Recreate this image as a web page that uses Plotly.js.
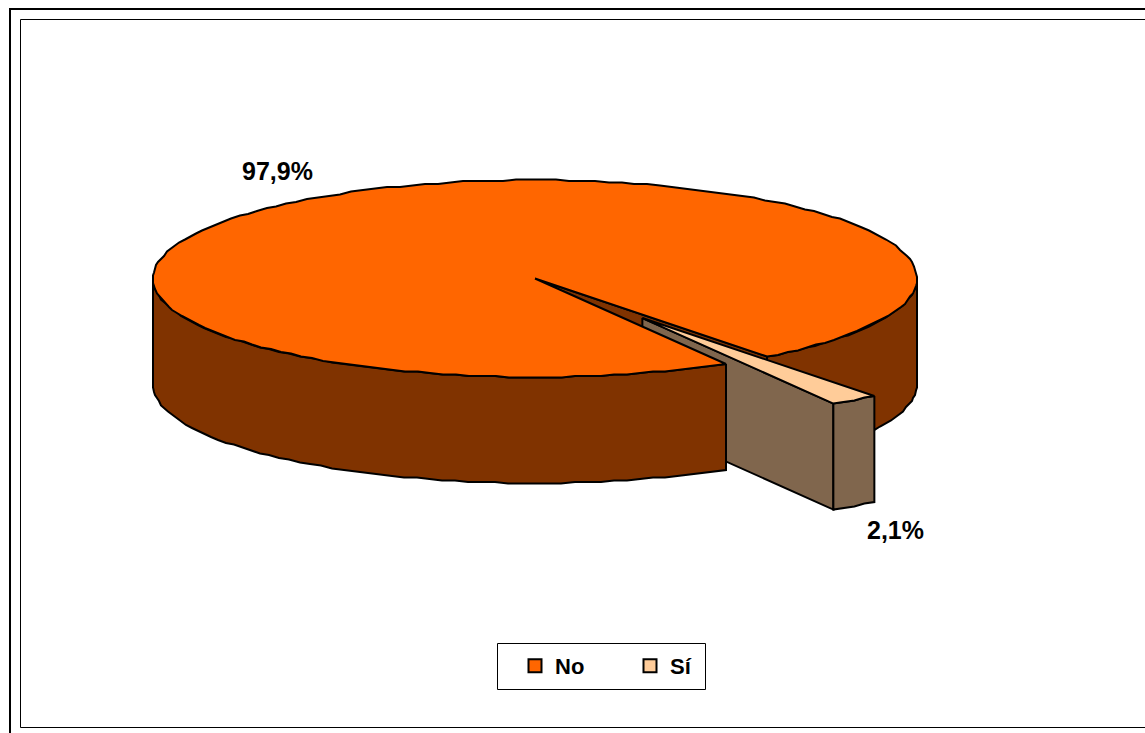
<!DOCTYPE html>
<html>
<head>
<meta charset="utf-8">
<script src="https://cdn.plot.ly/plotly-3.0.1.min.js"></script>
<style>html,body{margin:0;padding:0;background:#fff;overflow:hidden}</style>
</head>
<body>
<div id="chart" style="width:1145px;height:733px"></div>
<script>
const categories = ["No", "Sí"];
const percentages = [97.9, 2.1];
const topColors = ["#FF6600", "#FFCC99"];
const wallColors = ["#803300", "#80664D"];

const W = 1145, H = 733;
const cx = 535, cy = 278.5, rx = 382, ry = 98.5;
const depth = 106 / ry;
const explode = 0.49, explodeAngle = 55;
const midAngle = 56.3;
const span = percentages[1] / 100 * 360;
const a0 = midAngle - span / 2, a1 = midAngle + span / 2;
const rad = d => d * Math.PI / 180;
const off = [explode * Math.cos(rad(explodeAngle)), explode * Math.sin(rad(explodeAngle))];
// The original outline is a polyline snapped to a device grid.
const snap = (v, unit, step) => Math.round(v * unit / step) * step / unit;

function pt(a, o, dz) {
  return [snap(Math.cos(rad(a)), rx, 1) + (o ? o[0] : 0), snap(Math.sin(rad(a)), ry, 1.5) + (o ? o[1] : 0) + (dz || 0)];
}
function arc(a, b, o, dz) {
  const n = Math.max(2, Math.ceil(Math.abs(b - a) / 2));
  const out = [];
  for (let i = 0; i <= n; i++) out.push(pt(a + (b - a) * i / n, o, dz));
  return out;
}
function poly(points, color) {
  const xs = points.map(p => p[0]), ys = points.map(p => p[1]);
  xs.push(xs[0]); ys.push(ys[0]);
  return {type: "scatter", mode: "lines", x: xs, y: ys, fill: "toself", fillcolor: color,
    line: {color: "#000", width: 2, shape: "linear"}, hoverinfo: "skip", showlegend: false};
}
function wall(a, b, o, color) {
  return poly(arc(a, b, o, 0).concat(arc(b, a, o, depth)), color);
}
function radial(a, o, color) {
  const c = o || [0, 0];
  const e = pt(a, o, 0);
  return poly([c, e, [e[0], e[1] + depth], [c[0], c[1] + depth]], color);
}
const fmt = v => v.toFixed(1).replace(".", ",") + "%";

const traces = [
  wall(0, a0, null, wallColors[0]),
  radial(a0, null, wallColors[0]),
  radial(a1, off, wallColors[1]),
  wall(a0, a1, off, wallColors[1]),
  wall(a1, 180, null, wallColors[0]),
  poly([[0, 0]].concat(arc(a1, a0 + 360, null, 0)), topColors[0]),
  poly([off].concat(arc(a0, a1, off, 0)), topColors[1])
];
categories.forEach((c, i) => traces.push({
  type: "scatter", mode: "markers", x: [null], y: [null], name: c,
  marker: {symbol: "square", size: 13, color: topColors[i], line: {color: "#000", width: 2}},
  showlegend: true, hoverinfo: "skip"
}));

const px = x => (x - cx) / rx, py = y => (y - cy) / ry;
const layout = {
  width: W, height: H, margin: {l: 0, r: 0, t: 0, b: 0},
  paper_bgcolor: "#fff", plot_bgcolor: "rgba(0,0,0,0)",
  font: {family: "Liberation Sans, Arial, sans-serif", color: "#000"},
  xaxis: {range: [px(0), px(W)], visible: false, fixedrange: true},
  yaxis: {range: [py(H), py(0)], visible: false, fixedrange: true},
  showlegend: true,
  legend: {
    orientation: "h", x: 515 / W, y: 1 - 645 / H, xanchor: "left", yanchor: "top",
    bgcolor: "rgba(0,0,0,0)", borderwidth: 0,
    font: {size: 22, family: "Liberation Sans, Arial, sans-serif", weight: 700, color: "#000"},
    entrywidthmode: "pixels", entrywidth: 70, itemsizing: "trace", traceorder: "normal"
  },
  shapes: [
    {type: "rect", xref: "paper", yref: "paper", x0: 10 / W, x1: 1.1, y0: -0.1, y1: 1 - 9 / H,
     line: {color: "#000", width: 2}, layer: "below"},
    {type: "rect", xref: "paper", yref: "paper", x0: 20.5 / W, x1: 1.1, y0: 1 - 727.5 / H, y1: 1 - 19.5 / H,
     line: {color: "#000", width: 1}, layer: "below"},
    {type: "rect", xref: "paper", yref: "paper", x0: 497.5 / W, x1: 705.5 / W, y0: 1 - 689.5 / H, y1: 1 - 643.5 / H,
     line: {color: "#000", width: 1}, fillcolor: "#fff", layer: "below"}
  ],
  annotations: [
    {text: "<b>" + fmt(percentages[0]) + "</b>", x: px(277), y: py(171), showarrow: false, font: {size: 25}},
    {text: "<b>" + fmt(percentages[1]) + "</b>", x: px(895.5), y: py(530), showarrow: false, font: {size: 25}}
  ]
};
Plotly.newPlot("chart", traces, layout, {displayModeBar: false, staticPlot: true});
</script>
</body>
</html>
